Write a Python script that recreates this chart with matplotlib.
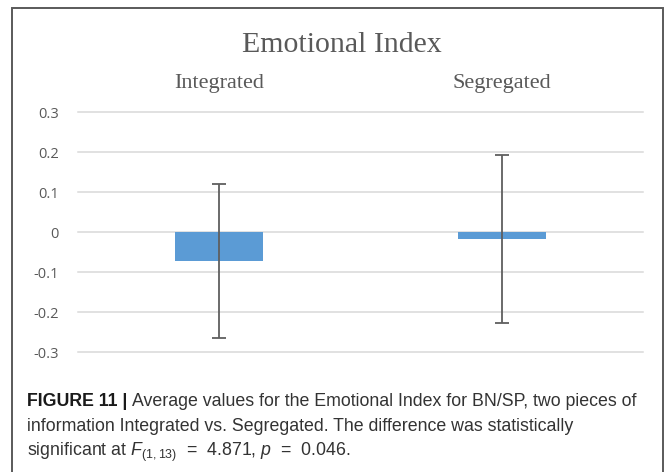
import matplotlib
matplotlib.use("Agg")
import matplotlib.pyplot as plt
from matplotlib.patches import Rectangle

# data
categories = ["Integrated", "Segregated"]
means = [-0.072, -0.018]
errors = [0.193, 0.210]
yticks = [0.3, 0.2, 0.1, 0.0, -0.1, -0.2, -0.3]
ytick_labels = ["0.3", "0.2", "0.1", "0", "-0.1", "-0.2", "-0.3"]

plt.rcParams["mathtext.fontset"] = "custom"
plt.rcParams["mathtext.rm"] = "Liberation Sans"
plt.rcParams["mathtext.it"] = "Liberation Sans:italic"

W, H = 667, 472
fig = plt.figure(figsize=(W / 100, H / 100), dpi=100)

# outer frame (open at the bottom)
fig.patches.append(Rectangle((12 / W, -0.05), (663 - 12) / W, 1.05 - 8 / H,
                             transform=fig.transFigure, fill=False,
                             edgecolor="#5a5a5a", linewidth=1.4))

ax = fig.add_axes([78 / W, 1 - 352 / H, (643 - 78) / W, (352 - 112) / H])
x = list(range(len(categories)))
ax.bar(x, means, width=0.31, color="#5b9bd5", zorder=2)
ax.errorbar(x, means, yerr=errors, fmt="none", ecolor="#5f5f5f",
            elinewidth=1.3, capsize=5, capthick=1.3, zorder=3)

ax.set_xlim(-0.5, 1.5)
ax.set_ylim(-0.3, 0.3)
ax.set_yticks(yticks)
ax.set_yticklabels(ytick_labels, fontsize=10.5, color="#595959", family="Open Sans")
ax.tick_params(axis="y", length=0, pad=14)
ax.yaxis.grid(True, color="#d9d9d9", linewidth=1.1, clip_on=False)
ax.set_axisbelow(True)
for s in ax.spines.values():
    s.set_visible(False)

ax.xaxis.tick_top()
ax.set_xticks(x)
ax.set_xticklabels(categories, fontsize=16, color="#595959", family="Liberation Serif")
ax.tick_params(axis="x", length=0, pad=14)

fig.text(342 / W, 1 - 52 / H, "Emotional Index", ha="center", va="baseline",
         fontsize=21.5, color="#595959", family="Liberation Serif")

# caption
cap_x = 27 / W
fs = 12.8
bold = fig.text(cap_x, 1 - 406 / H, "FIGURE 11 | ", fontsize=fs, fontweight="bold",
                family="Liberation Sans", color="#1a1a1a", va="baseline")
fig.canvas.draw()
bb = bold.get_window_extent(fig.canvas.get_renderer())
fig.text(bb.x1 / W, 1 - 406 / H,
         "Average values for the Emotional Index for BN/SP, two pieces of",
         fontsize=fs, family="Liberation Sans", color="#333333", va="baseline")
fig.text(cap_x, 1 - 431 / H,
         "information Integrated vs. Segregated. The difference was statistically",
         fontsize=fs, family="Liberation Sans", color="#333333", va="baseline")
fig.text(cap_x, 1 - 456 / H,
         r"significant at $F_{(1,13)}$  =  4.871, $p$  =  0.046.",
         fontsize=fs, family="Liberation Sans", color="#333333", va="baseline")

fig.savefig("out.png", dpi=100)
